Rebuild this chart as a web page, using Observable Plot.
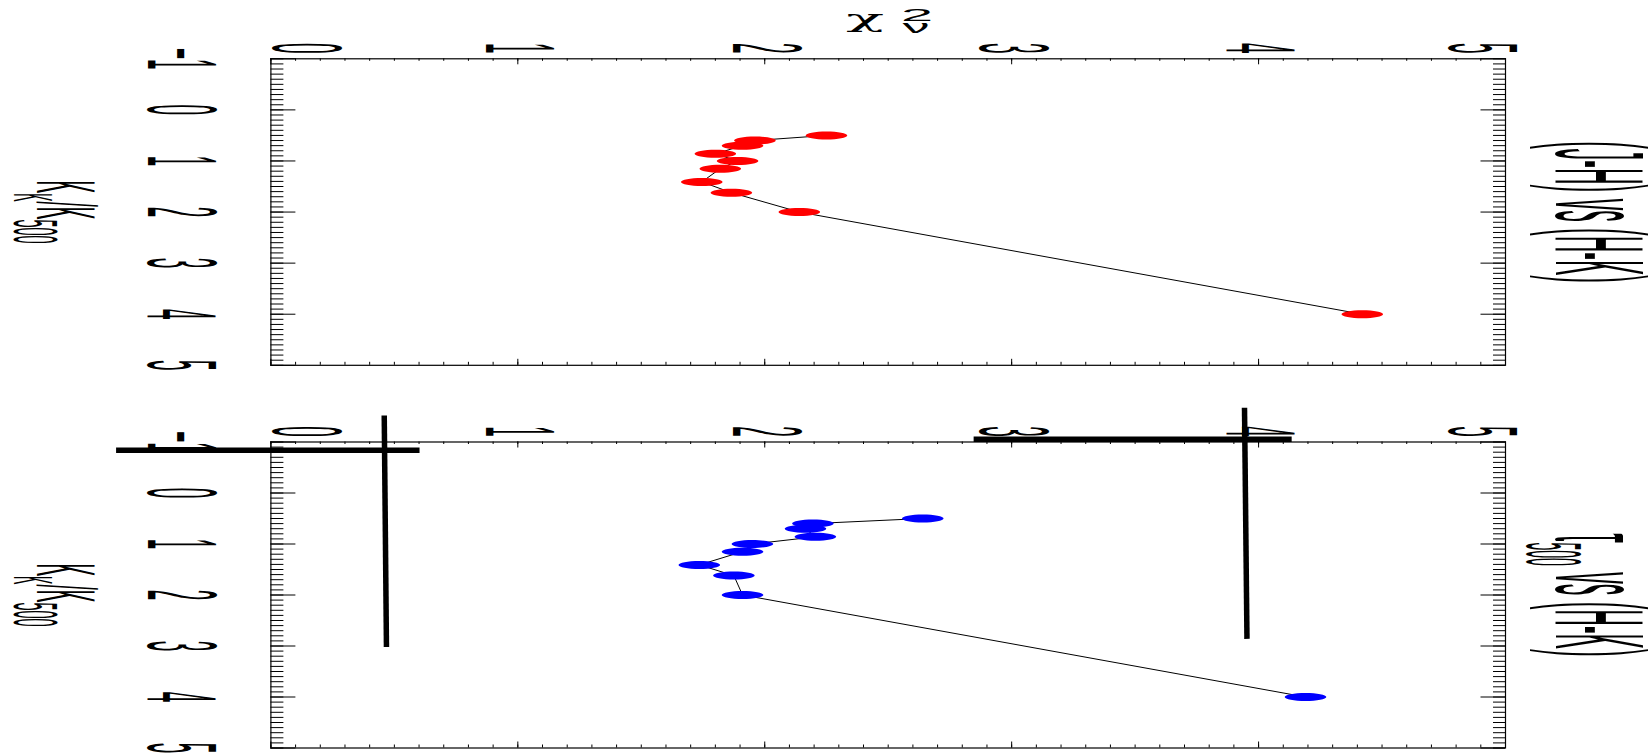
<!DOCTYPE html>
<html>
<head>
<meta charset="utf-8">
<script src="https://cdn.jsdelivr.net/npm/d3@7"></script>
<script src="https://cdn.jsdelivr.net/npm/@observablehq/plot@0.6"></script>
<style>
  html, body { margin: 0; padding: 0; background: #fff; }
  #chart { width: 1650px; height: 755px; overflow: hidden; position: relative; }
  #chart svg { display: block; }
</style>
</head>
<body>
<div id="chart"></div>
<script>
// K/K500 sampling shared by both fits
const kRatio = [0.5, 0.6, 0.7, 0.86, 1.0, 1.15, 1.41, 1.62, 2.0, 4.0];
// reduced chi-square of the (J-H) vs (H-K) fit
const chiJH = [2.25, 1.96, 1.91, 1.80, 1.89, 1.82, 1.745, 1.865, 2.14, 4.42];
// reduced chi-square of the tau500 vs (H-K) fit
const chiTau = [2.64, 2.195, 2.165, 2.205, 1.95, 1.91, 1.735, 1.875, 1.91, 4.19];

// axis ticks
const chiTicks = [0, 1, 2, 3, 4, 5];
const kTicks = [-1, 0, 1, 2, 3, 4, 5];
const chiMinor = d3.range(0, 51).map(i => i / 10);
const kMinor = d3.range(-10, 51).map(i => i / 10);

// heavy strokes across the lower panel: start (chi, K) and end (chi, K)
const guideChiStart = [-0.627, 0.459, 2.846, 3.943];
const guideKStart = [-0.839, -1.52, -1.053, -1.67];
const guideChiEnd = [0.602, 0.468, 4.134, 3.953];
const guideKEnd = [-0.839, 3.02, -1.053, 2.86];

const FONT = "Liberation Sans, Arial, Helvetica, sans-serif";
const GREEK = "DejaVu Serif, Liberation Serif, serif";

// flat elliptical plotting symbol
const ellipse = {
  draw(context, size) {
    const r = Math.sqrt(size / Math.PI);
    const rx = r * 5.2, ry = r, c = 0.5523;
    context.moveTo(rx, 0);
    context.bezierCurveTo(rx, ry * c, rx * c, ry, 0, ry);
    context.bezierCurveTo(-rx * c, ry, -rx, ry * c, -rx, 0);
    context.bezierCurveTo(-rx, -ry * c, -rx * c, -ry, 0, -ry);
    context.bezierCurveTo(rx * c, -ry, rx, -ry * c, rx, 0);
    context.closePath();
  }
};

// stretch the text of a tagged mark group
function stretch(svg, tag, sx, sy) {
  d3.select(svg).selectAll(`g[aria-description="${tag}"] text`).each(function () {
    const t = this.getAttribute("transform") || "";
    this.setAttribute("transform", `${t} scale(${sx},${sy})`);
  });
}

// replace a text's content with sized / shifted runs (sub- and superscripts)
function setRuns(svg, tag, runs) {
  d3.select(svg).selectAll(`g[aria-description="${tag}"] text`).each(function () {
    const t = d3.select(this);
    t.text(null);
    let shift = 0;
    for (const run of runs) {
      const s = run.shift || 0;
      t.append("tspan")
        .attr("font-size", run.size)
        .attr("dy", s - shift || null)
        .text(run.text);
      shift = s;
    }
  });
}

function panel({chi, color, title, titleRuns, height, marginTop, marginBottom, chiLabel, guides}) {
  const width = 1650, marginLeft = 270.4, marginRight = 145;
  const innerW = width - marginLeft - marginRight;
  const innerH = height - marginTop - marginBottom;
  const pts = kRatio.map((k, i) => ({k, chi: chi[i]}));
  const tickText = d => (d < 0 ? "\u2212" + (-d) : String(d));
  const centered = {textAnchor: "middle", lineAnchor: "middle", rotate: 90, fontFamily: FONT, fill: "black"};
  const labelOpts = {...centered, fontSize: 19, text: tickText};

  const marks = [
    Plot.frame({stroke: "black", strokeWidth: 1.2}),
    // chi-square ticks, top and bottom edges
    Plot.tickX(chiMinor, {x: d => d, insetBottom: innerH - 2.5, stroke: "black"}),
    Plot.tickX(chiTicks, {x: d => d, insetBottom: innerH - 6, stroke: "black"}),
    Plot.tickX(chiMinor, {x: d => d, insetTop: innerH - 3, stroke: "black"}),
    Plot.tickX(chiTicks, {x: d => d, insetTop: innerH - 6, stroke: "black"}),
    // K/K500 ticks, left and right edges
    Plot.tickY(kMinor, {y: d => d, insetRight: innerW - 13, stroke: "black"}),
    Plot.tickY(kTicks, {y: d => d, insetRight: innerW - 25, stroke: "black"}),
    Plot.tickY(kMinor, {y: d => d, insetLeft: innerW - 12, stroke: "black"}),
    Plot.tickY(kTicks, {y: d => d, insetLeft: innerW - 24.5, stroke: "black"}),
    // tick labels
    Plot.text(chiTicks.slice(1, 5), {...labelOpts, x: d => d, frameAnchor: "top", dy: -10.5, ariaDescription: "tick-label"}),
    Plot.text([chiTicks[0]], {...labelOpts, x: d => d, frameAnchor: "top", dy: -10.5, dx: 34, ariaDescription: "tick-label"}),
    Plot.text([chiTicks[5]], {...labelOpts, x: d => d, frameAnchor: "top", dy: -10.5, dx: -25, ariaDescription: "tick-label"}),
    Plot.text(kTicks, {...labelOpts, y: d => d, frameAnchor: "left", dx: -91.4, ariaDescription: "tick-label"}),
    // K/K500 axis title
    Plot.text(["KK/K500"], {...centered, text: d => d, fontSize: 19,
      frameAnchor: "left", dx: -207.6, ariaDescription: "k-title"}),
    // panel title
    Plot.text([title], {...centered, text: d => d, fontSize: 23,
      frameAnchor: "right", dx: 90.5, ariaDescription: "panel-title"})
  ];

  if (chiLabel) {
    const glyph = {textAnchor: "middle", lineAnchor: "bottom", frameAnchor: "top", fontFamily: FONT, fill: "black", text: d => d};
    marks.push(
      Plot.text(["\u03c7"], {...glyph, fontFamily: GREEK, dx: -23, dy: -31.6, fontSize: 24, ariaDescription: "chi-glyph"}),
      Plot.text(["2"], {...glyph, dx: 28.8, dy: -37.6, fontSize: 17, ariaDescription: "chi-sup"}),
      Plot.text(["\u03bd"], {...glyph, dx: 27.8, dy: -26.2, fontSize: 19, ariaDescription: "chi-sub"})
    );
  }

  if (guides) {
    marks.push(Plot.link(d3.range(guideChiStart.length), {
      x1: i => guideChiStart[i], y1: i => guideKStart[i],
      x2: i => guideChiEnd[i], y2: i => guideKEnd[i],
      stroke: "black", strokeWidth: 5.5
    }));
  }

  marks.push(
    Plot.line(pts, {x: "chi", y: "k", stroke: "black", strokeWidth: 1}),
    Plot.dot(pts, {x: "chi", y: "k", r: 4, symbol: ellipse, fill: color, stroke: null})
  );

  const svg = Plot.plot({
    width, height, marginLeft, marginRight, marginTop, marginBottom,
    x: {domain: [0, 5], axis: null},
    y: {domain: [-1, 5], reverse: true, axis: null},
    style: {background: "white", overflow: "visible", fontFamily: FONT},
    marks
  });

  stretch(svg, "tick-label", 1, 5.2);
  setRuns(svg, "k-title", [
    {text: "K", size: 19},
    {text: "K", size: 12.5, shift: 5.2},
    {text: "/", size: 19},
    {text: "K", size: 19},
    {text: "500", size: 14.5, shift: 5.2}
  ]);
  stretch(svg, "k-title", 1, 4.4);
  if (titleRuns) setRuns(svg, "panel-title", titleRuns);
  stretch(svg, "panel-title", 1, 5.5);
  if (chiLabel) {
    stretch(svg, "chi-glyph", 2.6, 1);
    stretch(svg, "chi-sup", 3.4, 1);
    stretch(svg, "chi-sub", 2.85, 1);
  }
  return svg;
}

const chart = document.getElementById("chart");
chart.append(panel({
  chi: chiJH, color: "#ff0000", title: "(J-H) vs (H-K)",
  height: 400, marginTop: 58.3, marginBottom: 35.2, chiLabel: true, guides: false
}));
chart.append(panel({
  chi: chiTau, color: "#0000ff", title: "\u03c4500 vs (H-K)",
  titleRuns: [
    {text: "\u03c4", size: 23},
    {text: "500", size: 14, shift: 5.2},
    {text: " vs (H-K)", size: 23}
  ],
  height: 355, marginTop: 41.5, marginBottom: 7.5, chiLabel: false, guides: true
}));
</script>
</body>
</html>
